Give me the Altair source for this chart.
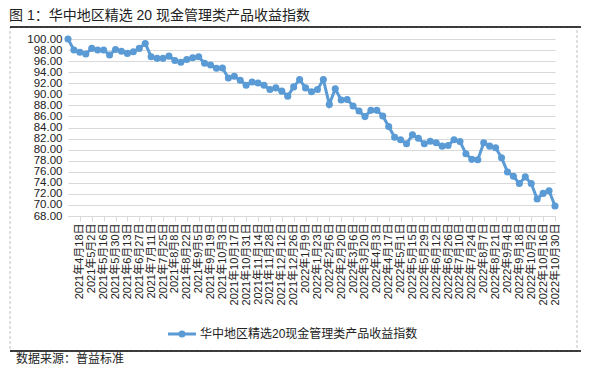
import altair as alt
import pandas as pd

start_date = "2021-04-04"
values = [100.0, 98.0, 97.6, 97.3, 98.3, 98.0, 98.0, 97.1, 98.1, 97.8,
          97.4, 97.7, 98.3, 99.2, 96.8, 96.5, 96.5, 96.9, 96.1, 95.8,
          96.3, 96.6, 96.8, 95.6, 95.3, 94.7, 94.75,
          92.96, 93.25, 92.54, 91.64, 92.24, 92.06, 91.64, 90.87, 91.16, 90.57,
          89.67, 91.34, 92.66, 91.16, 90.45, 90.87, 92.66, 88.18, 90.99, 88.96,
          89.07, 87.88, 86.99, 85.97, 87.1, 87.1, 86.09,
          84.18, 82.23, 81.8, 81.05, 82.67, 82.07, 81.05, 81.53, 81.23, 80.63,
          80.75, 81.8, 81.47, 79.26, 78.24, 78.18, 81.23, 80.63, 80.33, 78.54,
          75.97, 75.19, 73.88, 75.07, 73.88, 71.07, 72.09, 72.56, 69.8]
y_ticks = list(range(68, 101, 2))

title_text = "图 1：华中地区精选 20 现金管理类产品收益指数"
series_name = "华中地区精选20现金管理类产品收益指数"
source_text = "数据来源：普益标准"

dates = pd.date_range(start_date, periods=len(values), freq="7D")
labels = [f"{d.year}年{d.month}月{d.day}日" for d in dates]
tick_labels = labels[::2]

df = pd.DataFrame({"date": labels, "value": values})

FONT = "Liberation Sans, Noto Sans CJK SC, sans-serif"
BLUE = "#5b9bd5"

base = alt.Chart(df).encode(
    x=alt.X("date:N", sort=None, title=None,
            scale=alt.Scale(type="point", padding=0),
            axis=alt.Axis(values=tick_labels, labelAngle=-90, labelOverlap=False,
                          labelFont=FONT, labelFontSize=11, labelColor="#222",
                          labelPadding=2, tickSize=5, tickColor="#d9d9d9",
                          domain=True, domainColor="#d9d9d9", grid=False)),
    y=alt.Y("value:Q", title=None,
            scale=alt.Scale(domain=[68, 100], nice=False, zero=False),
            axis=alt.Axis(values=y_ticks, format=".2f", labelFont=FONT,
                          labelFontSize=11.5, labelColor="#222", labelPadding=6,
                          labelOverlap=False, ticks=False, domain=False,
                          grid=True, gridColor="#d9d9d9")),
)

line = base.mark_line(color=BLUE, strokeWidth=3)
pts = base.mark_point(filled=True, size=50, color=BLUE, opacity=1)

one = pd.DataFrame({"a": [0]})

border = alt.Chart(one).mark_rect(fillOpacity=0, stroke="#bfbfbf", strokeWidth=1,
                                  strokeDash=[3, 2]).encode(
    x=alt.value(-58), x2=alt.value(509), y=alt.value(-12), y2=alt.value(312))

title = alt.Chart(one).mark_text(align="left", baseline="middle", font=FONT,
                                 fontSize=14, color="#222").encode(
    x=alt.value(-59), y=alt.value(-23), text=alt.value(title_text))

top_rule = alt.Chart(one).mark_rule(color="#000", strokeWidth=1.5).encode(
    x=alt.value(-58), x2=alt.value(513), y=alt.value(-12))

bottom_rule = alt.Chart(one).mark_rule(color="#000", strokeWidth=1.5).encode(
    x=alt.value(-58), x2=alt.value(513), y=alt.value(312))

leg_line = alt.Chart(one).mark_rule(color=BLUE, strokeWidth=3).encode(
    x=alt.value(100), x2=alt.value(128), y=alt.value(295))
leg_pt = alt.Chart(one).mark_point(filled=True, size=50, color=BLUE, opacity=1).encode(
    x=alt.value(114), y=alt.value(295))
leg_text = alt.Chart(one).mark_text(align="left", baseline="middle", font=FONT,
                                    fontSize=12, color="#222").encode(
    x=alt.value(132), y=alt.value(295), text=alt.value(series_name))

source = alt.Chart(one).mark_text(align="left", baseline="middle", font=FONT,
                                  fontSize=12, color="#222").encode(
    x=alt.value(-52), y=alt.value(320), text=alt.value(source_text))

chart = alt.layer(border, line, pts, title, top_rule, bottom_rule,
                  leg_line, leg_pt, leg_text, source).properties(
    width=487, height=177,
    padding={"left": 60, "top": 31, "right": 26, "bottom": 152},
    autosize=alt.AutoSizeParams(type="none"),
).configure_view(stroke=None)

chart.save("out.html", embed_options={"renderer": "svg", "actions": False})
